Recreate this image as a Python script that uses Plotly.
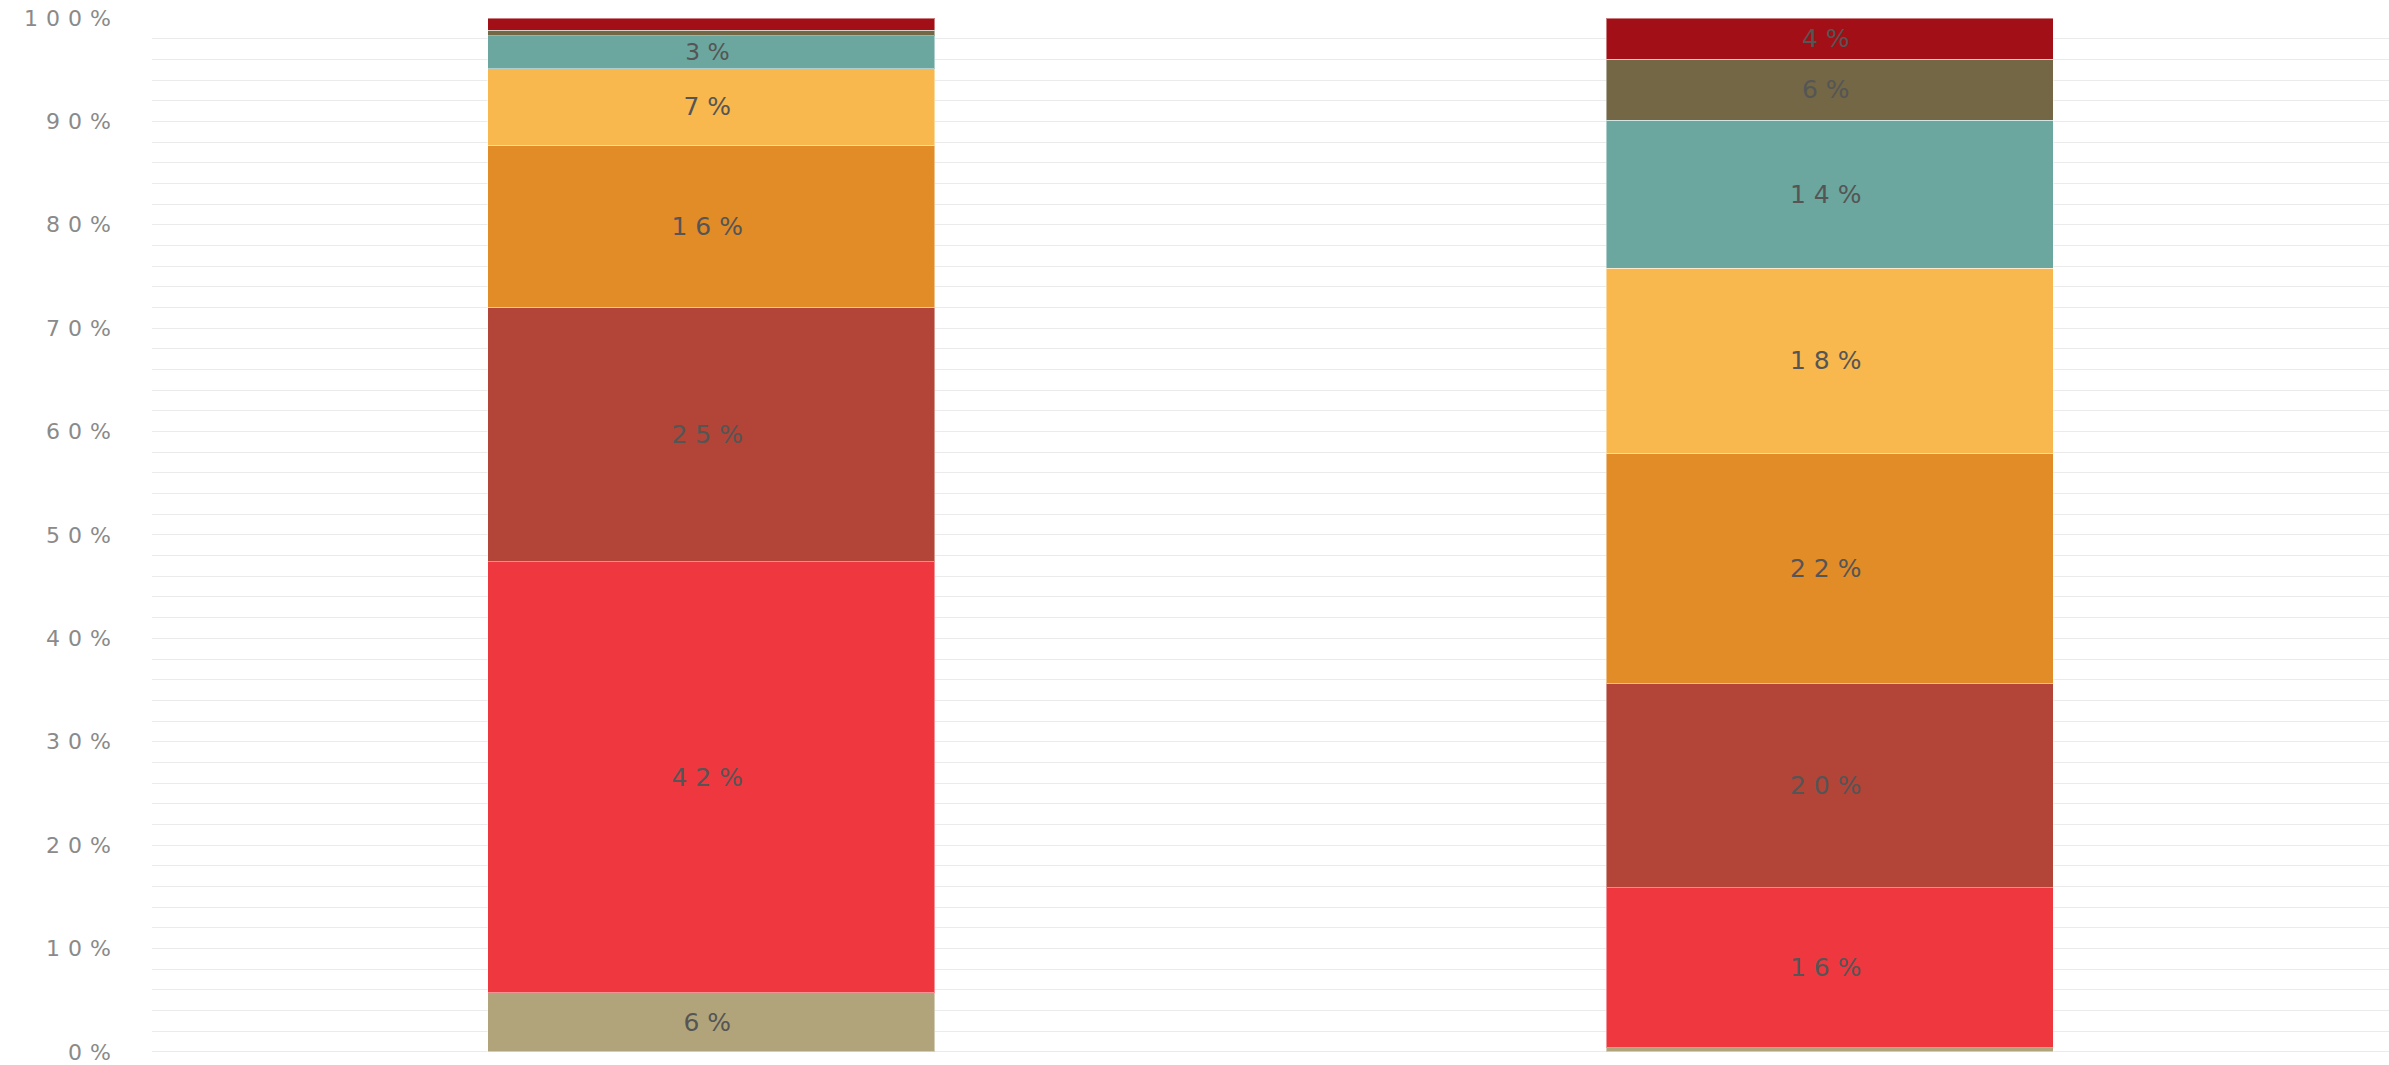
import plotly.graph_objects as go

categories = ["A", "B"]
series_names = ["S1", "S2", "S3", "S4", "S5", "S6", "S7", "S8"]
series_colors = ["#B1A47A", "#EF3740", "#B24438", "#E28C28", "#F8B84E", "#6BA79E", "#736745", "#A20F16"]
# values per series, [bar A, bar B] in percent
s1 = [5.7, 0.4]
s2 = [41.7, 15.5]
s3 = [24.6, 19.7]
s4 = [15.7, 22.3]
s5 = [7.4, 17.9]
s6 = [3.2, 14.3]
s7 = [0.5, 5.9]
s8 = [1.2, 4.0]
series_values = [s1, s2, s3, s4, s5, s6, s7, s8]
y_ticks = [0, 10, 20, 30, 40, 50, 60, 70, 80, 90, 100]
y_tick_labels = ["0%", "10%", "20%", "30%", "40%", "50%", "60%", "70%", "80%", "90%", "100%"]

def spaced(s, px):
    return f'<span style="letter-spacing:{px}px">{s}</span>'

fig = go.Figure()
for name, color, vals in zip(series_names, series_colors, series_values):
    labels = [spaced(f"{round(v)}%", 8) if v >= 2 else "" for v in vals]
    fig.add_trace(go.Bar(
        x=categories, y=vals, name=name,
        marker=dict(color=color, line=dict(color="rgba(255,255,255,0.45)", width=1)),
        text=labels, textposition="inside", insidetextanchor="middle",
        textangle=0,
        textfont=dict(family="DejaVu Sans", size=25, color="#555555"),
        hoverinfo="skip",
    ))

fig.update_layout(
    barmode="stack",
    bargap=0.6,
    width=2389, height=1065,
    margin=dict(l=152, r=0, t=18, b=7),
    paper_bgcolor="white", plot_bgcolor="white",
    showlegend=False,
    uniformtext=dict(mode=False),
)
fig.update_xaxes(showticklabels=False, showgrid=False, zeroline=False, showline=False, ticks="")
fig.update_yaxes(
    range=[-0.3, 100], tickmode="array", tickvals=y_ticks,
    ticktext=[spaced(t, 8) for t in y_tick_labels],
    showgrid=True, gridcolor="#EBEBEB", gridwidth=1,
    minor=dict(dtick=2, showgrid=True, gridcolor="#EBEBEB", gridwidth=1),
    zeroline=False, showline=False,
    tickfont=dict(family="DejaVu Sans", size=22, color="#8A8A8A"),
    ticklabelstandoff=32,
    ticklabeloverflow="allow",
)
fig.write_html("out.html", config={"displayModeBar": False},
               post_script="document.body.style.margin='0';document.body.style.overflow='hidden';")
